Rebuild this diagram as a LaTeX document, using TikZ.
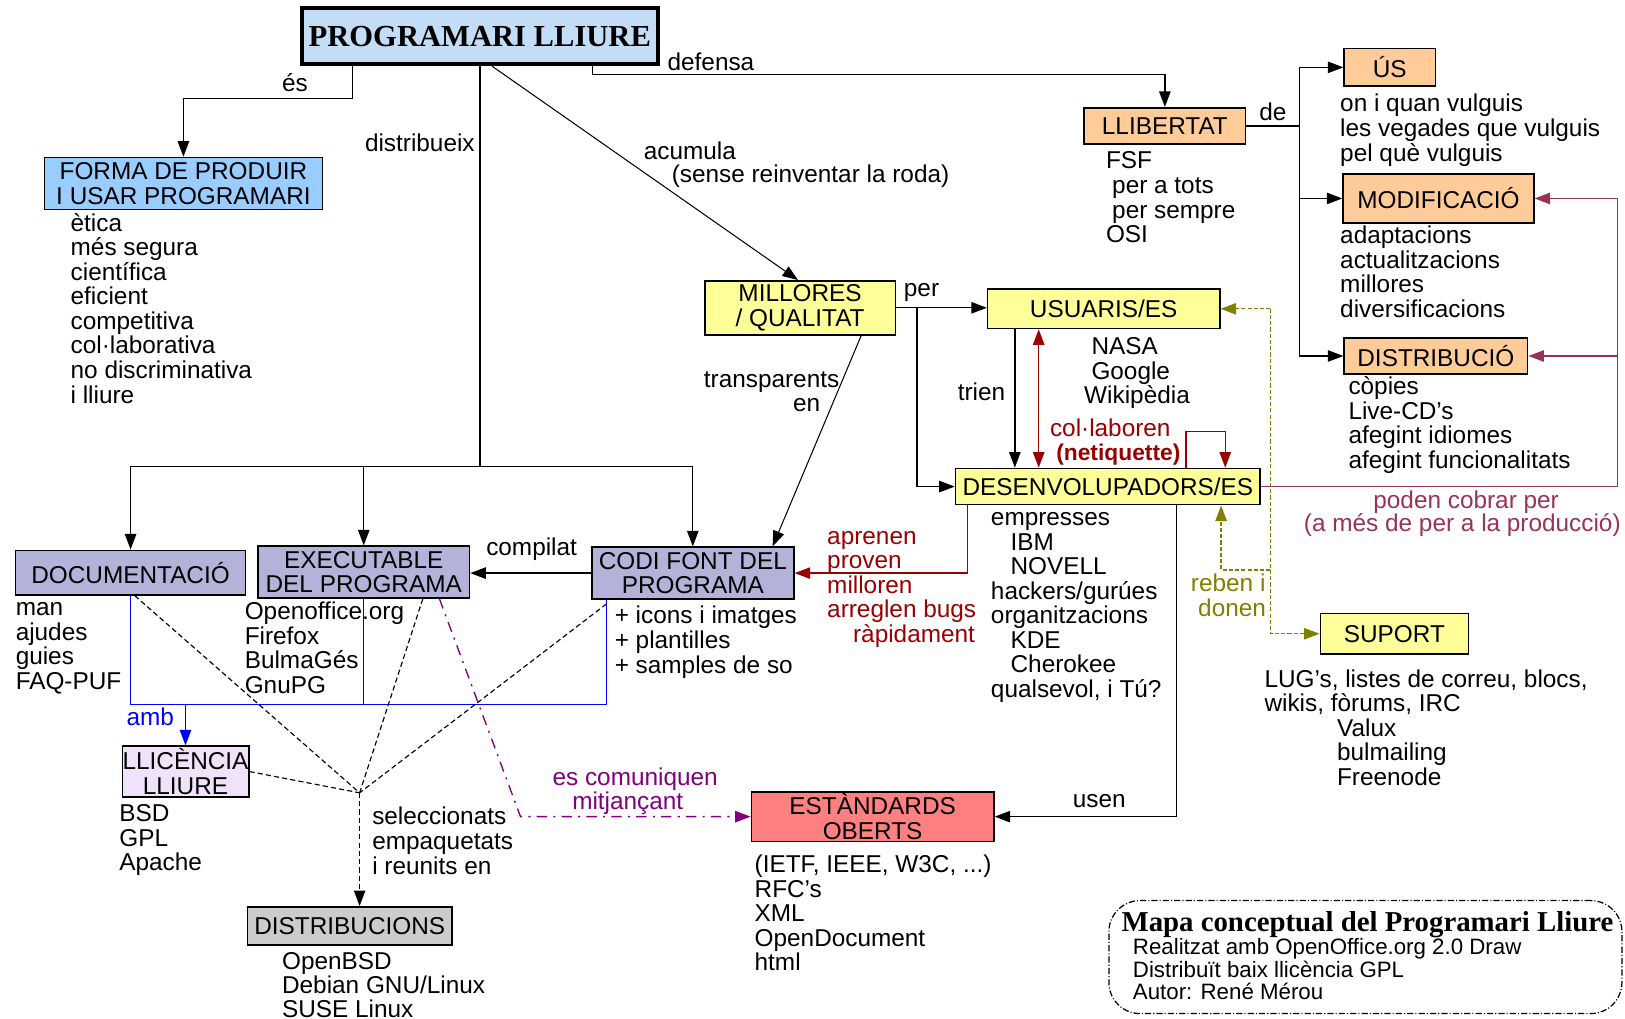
\documentclass[tikz,border=0pt]{standalone}
\usepackage{fontspec}
\setmainfont{Liberation Sans}
\newfontfamily\titlefont{Liberation Serif}
\usetikzlibrary{arrows.meta,calc}
\definecolor{dred}{HTML}{990000}
\definecolor{crim}{HTML}{993355}
\definecolor{oliv}{HTML}{808000}
\definecolor{purp}{HTML}{800080}
\definecolor{bluefill}{HTML}{99CCFF}
\definecolor{peach}{HTML}{FFCC99}
\definecolor{yel}{HTML}{FFFF99}
\definecolor{lav}{HTML}{B3B3D9}
\definecolor{lilac}{HTML}{F0E2FA}
\definecolor{gry}{HTML}{CCCCCC}
\definecolor{salmon}{HTML}{FF8080}
\definecolor{titlefill}{HTML}{C4DDF6}
\begin{document}
\begin{tikzpicture}[x=1pt,y=-1pt,
  every node/.style={font=\fontsize{23.5pt}{23.7pt}\selectfont, inner sep=0pt},
  box/.style={draw=black, line width=1.5pt, align=center},
  lst/.style={anchor=base west, align=left},
  lbl/.style={anchor=base west},
  tip/.style={-{Triangle[length=15pt,width=11pt]}},
  tips/.style={{Triangle[length=15pt,width=11pt]}-{Triangle[length=15pt,width=11pt]}},
  arr/.style={tip, line width=1.3pt, draw=black},
  ln/.style={line width=1.3pt, draw=black},
  redl/.style={line width=1.3pt, draw=dred},
  crl/.style={line width=1.3pt, draw=crim},
  oll/.style={line width=1.2pt, draw=oliv, dash pattern=on 4pt off 2pt},
  bll/.style={line width=1.3pt, draw=blue},
  dsh/.style={line width=1.1pt, draw=black, dash pattern=on 5pt off 3pt},
  prl/.style={line width=1.3pt, draw=purp, dash pattern=on 10pt off 6pt on 2pt off 6pt}]
\useasboundingbox (0,0) rectangle (1568,983);

% ---------- boxes ----------
\node[box, line width=4pt, fill=titlefill, minimum width=344pt, minimum height=54pt,
  font=\titlefont\bfseries\fontsize{29.5pt}{30pt}\selectfont] (title) at (463,35) {PROGRAMARI LLIURE};
\node[box, fill=bluefill, minimum width=268pt, minimum height=50pt] (forma) at (177,177) {FORMA DE PRODUIR\\I USAR PROGRAMARI};
\node[box, fill=peach, minimum width=156pt, minimum height=35pt] (llib) at (1124,121.5) {LLIBERTAT};
\node[box, fill=peach, minimum width=88pt, minimum height=36pt] (us) at (1341,65) {ÚS};
\node[box, fill=peach, minimum width=184pt, minimum height=47pt] (modif) at (1388,191.5) {MODIFICACIÓ};
\node[box, fill=peach, minimum width=177pt, minimum height=35pt] (distr) at (1385.5,343.5) {DISTRIBUCIÓ};
\node[box, fill=yel, minimum width=184pt, minimum height=52pt] (mill) at (772,297) {MILLORES\\/ QUALITAT};
\node[box, fill=yel, minimum width=224pt, minimum height=38pt] (usu) at (1065,298) {USUARIS/ES};
\node[box, fill=yel, minimum width=294pt, minimum height=35pt] (des) at (1069,469.5) {DESENVOLUPADORS/ES};
\node[box, fill=yel, minimum width=143pt, minimum height=39pt] (sup) at (1345.5,611.5) {SUPORT};
\node[box, fill=salmon, minimum width=234pt, minimum height=48pt] (est) at (842,788) {ESTÀNDARDS\\OBERTS};
\node[box, fill=lav, minimum width=195pt, minimum height=50pt] (codi) at (668.5,553) {CODI FONT DEL\\PROGRAMA};
\node[box, fill=lav, minimum width=204pt, minimum height=50pt] (exec) at (351,552) {EXECUTABLE\\DEL PROGRAMA};
\node[box, fill=lav, minimum width=222pt, minimum height=43pt] (docu) at (126,552.5) {DOCUMENTACIÓ};
\node[box, fill=lilac, minimum width=122pt, minimum height=49pt] (llic) at (179,744.5) {LLICÈNCIA\\LLIURE};
\node[box, fill=gry, minimum width=197pt, minimum height=37pt] (dists) at (337.5,893.5) {DISTRIBUCIONS};

% ---------- lists (anchored at the baseline of their last line) ----------
\node[lst] (formaL) at (68,388.9) {ètica\\més segura\\científica\\eficient\\competitiva\\col·laborativa\\no discriminativa\\i lliure};
\node[lst] (llibL) at (1067,234.1) {FSF\\\hspace{6pt}per a tots\\\hspace{6pt}per sempre\\OSI};
\node[lst] (usL) at (1293,155.4) {on i quan vulguis\\les vegades que vulguis\\pel què vulguis};
\node[lst] (modifL) at (1293,306.1) {adaptacions\\actualitzacions\\millores\\diversificacions};
\node[lst] (distrL) at (1301,452.1) {còpies\\Live-CD's\\afegint idiomes\\afegint funcionalitats};
\node[lst] (usuL) at (1046,389.4) {\hspace{7pt}NASA\\\hspace{7pt}Google\\Wikipèdia};
\node[lst] (desL) at (956,672.9) {empresses\\\hspace{19pt}IBM\\\hspace{19pt}NOVELL\\hackers/gurúes\\organitzacions\\\hspace{19pt}KDE\\\hspace{19pt}Cherokee\\qualsevol, i Tú?};
\node[lst, text=dred] (aprL) at (798,619.8) {aprenen\\proven\\milloren\\arreglen bugs\\\hspace{25pt}ràpidament};
\node[lst] (supL) at (1220,757.8) {LUG's, listes de correu, blocs,\\wikis, fòrums, IRC\\\hspace{70pt}Valux\\\hspace{70pt}bulmailing\\\hspace{70pt}Freenode};
\node[lst] (estL) at (728,936.8) {(IETF, IEEE, W3C, ...)\\RFC's\\XML\\OpenDocument\\html};
\node[lst] (codiL) at (593,649.4) {+ icons i imatges\\+ plantilles\\+ samples de so};
\node[lst] (execL) at (236,669.1) {Openoffice.org\\Firefox\\BulmaGés\\GnuPG};
\node[lst] (docuL) at (15,665.1) {man\\ajudes\\guies\\FAQ-PUF};
\node[lst] (llicL) at (115,840.4) {BSD\\GPL\\Apache};
\node[lst, font=\fontsize{23.5pt}{23pt}\selectfont] (distsL) at (272,981.5) {OpenBSD\\Debian GNU/Linux\\SUSE Linux};
\node[lst] (selL) at (359,843.4) {seleccionats\\empaquetats\\i reunits en};

% ---------- labels ----------
\node[lbl] (lEs) at (272,88) {és};
\node[lbl] (lDist) at (352,146) {distribueix};
\node[lbl] (lAcu) at (621,154) {acumula};
\node[lbl] (lSense) at (648,176) {(sense reinventar la roda)};
\node[lbl] (lDef) at (644,68) {defensa};
\node[lbl] (lDe) at (1215,116) {de};
\node[lbl] (lPer) at (872,286) {per};
\node[lbl] (lTra) at (679,374) {transparents};
\node[lbl] (lEn) at (765,397) {en};
\node[lbl] (lTri) at (924,386) {trien};
\node[lbl, text=dred] (lCol) at (1013,421) {col·laboren};
\node[lbl, text=dred, font=\bfseries\fontsize{22pt}{23pt}\selectfont] (lNet) at (1019,444) {(netiquette)};
\node[lbl] (lComp) at (469,536) {compilat};
\node[lbl, text=blue] (lAmb) at (122,700) {amb};
\node[lbl, text=purp] (lCom) at (533,758) {es comuniquen};
\node[lbl, text=purp] (lMit) at (552,781) {mitjançant};
\node[lbl] (lUsen) at (1035,779) {usen};
\node[lbl, text=oliv] (lReb) at (1149,571) {reben i};
\node[lbl, text=oliv] (lDon) at (1156,595) {donen};
\node[lbl, text=crim] (lPod) at (1325,491) {poden cobrar per};
\node[lbl, text=crim] (lAmes) at (1258,513) {(a més de per a la producció)};

% ---------- info box ----------
\node[draw, line width=1.2pt, dash pattern=on 6pt off 2pt on 1pt off 2pt, rounded corners=30pt,
  minimum width=495pt, minimum height=109pt] (info) at (1317.5,923.5) {};
\node[lbl, font=\titlefont\bfseries\fontsize{27.8pt}{28pt}\selectfont] (infoT) at (1082,899) {Mapa conceptual del Programari Lliure};
\node[lst, font=\fontsize{21.5pt}{21.8pt}\selectfont] (infoL) at (1093,964.6) {Realitzat amb OpenOffice.org 2.0 Draw\\Distribuït baix llicència GPL\\Autor: René Mérou};

% ---------- connectors ----------
% és
\draw[arr] ([xshift=-123pt]title.south) -- ++(0,31) -| (forma.north);
% distribueix
\draw[ln] (title.south) -- ++(0,386) coordinate (dj);
\draw[arr] (dj) -| (docu.north);
\draw[arr] (dj) -| (exec.north);
\draw[arr] (dj) -| (codi.north);
% acumula
\draw[arr, line width=1pt] ([xshift=12pt]title.south) -- ([xshift=-2pt]mill.north);
% defensa
\draw[arr] ([xshift=109pt]title.south) -- ++(0,8) -| (llib.north);
% de
\draw[ln] (llib.east) -- ++(51,0) coordinate (dj2);
\draw[arr] (dj2) |- (us.west);
\draw[arr] (dj2) |- (modif.west);
\draw[arr] (dj2) |- (distr.west);
% per
\draw[arr] (mill.east) -- (mill.east -| usu.west);
\draw[arr] ([xshift=20pt]mill.east) |- (des.west);
% transparents en
\draw[arr, line width=1pt] ([xshift=59pt]mill.south) -- ([xshift=77pt]codi.north);
% trien
\coordinate (tr) at ([xshift=27pt]usu.south west);
\draw[arr] (tr) -- (tr |- des.north);
% col.laboren
\coordinate (cl) at ([xshift=50pt]usu.south west);
\draw[redl, tips] (cl) -- (cl |- des.north);
\coordinate (sl1) at ([xshift=223pt]des.north west);
\coordinate (sl2) at ([xshift=261pt]des.north west);
\draw[redl, tip] (sl1) -- ++(0,-35) -| (sl2);
% aprenen
\draw[redl, tip] ([xshift=12pt]des.south west) |- (codi.east);
% usen
\draw[arr] ([xshift=214pt]des.south west) |- (est.east);
% poden cobrar per
\draw[crl] (des.east) -- ++(344,0) coordinate (pc);
\draw[crl, tip] (pc) |- (modif.east);
\draw[crl, tip] (pc |- distr.east) -- (distr.east);
% reben i donen
\coordinate (ov) at ([xshift=48pt]usu.east);
\draw[oll, tip] (ov) -- (usu.east);
\draw[oll, tip] (ov) |- (sup.west);
\coordinate (ov2) at ([xshift=257pt]des.south west);
\draw[oll, tip] ($(ov)+(0,252)$) -| (ov2);
% compilat
\draw[arr] (codi.west) -- (codi.west -| exec.east);
% amb (blue)
\coordinate (bl1) at ($(docu.south)+(0,105)$);
\coordinate (cb) at ([xshift=15pt]codi.south west);
\draw[bll] (docu.south) -- (bl1) -- (bl1 -| cb) -- (cb);
\draw[bll] (exec.south) -- (exec.south |- bl1);
\draw[bll, tip] (bl1 -| llic.north) -- (llic.north);
% seleccionats
\coordinate (cv) at (347,765);
\draw[dsh] ([xshift=4pt]docu.south) -- (cv);
\draw[dsh] ([xshift=57pt]exec.south) -- (cv);
\draw[dsh] ([yshift=-4pt]cb) -- (cv);
\draw[dsh] (llic.east) -- (cv);
\draw[dsh, tip] (cv) -- (cv |- dists.north);
% es comuniquen
\draw[prl, tip] ([xshift=73pt]exec.south) -- ($(est.west)+(-222,0)$) -- (est.west);
\end{tikzpicture}
\end{document}
